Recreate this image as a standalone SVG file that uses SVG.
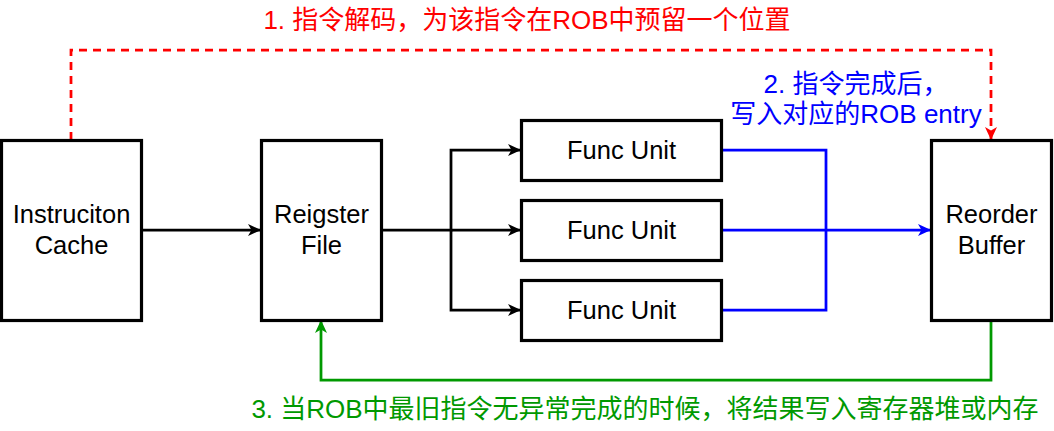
<svg xmlns="http://www.w3.org/2000/svg" width="1054" height="431" viewBox="0 0 1054 431">
<style>
.box{fill:#fff;stroke:#000;stroke-width:3.2}
.t{font-family:"Liberation Sans",Arial,sans-serif;font-size:25.5px;text-anchor:middle;fill:#000}
.lbl{font-family:"Liberation Sans","Noto Sans CJK SC",sans-serif;font-size:26px;text-anchor:middle}
.c{fill:none;stroke-width:2.75}
</style>
<defs>
<marker id="ak" markerUnits="userSpaceOnUse" markerWidth="14" markerHeight="12" refX="12" refY="6" orient="auto"><path d="M0,0 L13,6 L0,12 L3.5,6 Z" fill="#000"/></marker>
<marker id="ab" markerUnits="userSpaceOnUse" markerWidth="14" markerHeight="12" refX="12" refY="6" orient="auto"><path d="M0,0 L13,6 L0,12 L3.5,6 Z" fill="#0000ff"/></marker>
<marker id="ar" markerUnits="userSpaceOnUse" markerWidth="14" markerHeight="12" refX="12" refY="6" orient="auto"><path d="M0,0 L13,6 L0,12 L3.5,6 Z" fill="#ff0000"/></marker>
<marker id="ag" markerUnits="userSpaceOnUse" markerWidth="14" markerHeight="12" refX="12" refY="6" orient="auto"><path d="M0,0 L13,6 L0,12 L3.5,6 Z" fill="#009900"/></marker>
</defs>
<g id="connectors">
<path class="c" stroke="#000" d="M142,230 H260" marker-end="url(#ak)"/>
<path class="c" stroke="#000" d="M382,230 H451 V150 H520" marker-end="url(#ak)"/>
<path class="c" stroke="#000" d="M451,230 H520" marker-end="url(#ak)"/>
<path class="c" stroke="#000" d="M451,230 V310 H520" marker-end="url(#ak)"/>
<path class="c" stroke="#0000ff" d="M722,150 H826 V230"/>
<path class="c" stroke="#0000ff" d="M722,310 H826 V230"/>
<path class="c" stroke="#0000ff" d="M722,230 H930" marker-end="url(#ab)"/>
<path class="c" stroke="#ff0000" stroke-dasharray="8,6" d="M71,140 V50 H991 V139" marker-end="url(#ar)"/>
<path class="c" stroke="#009900" d="M991,321 V380 H321 V321" marker-end="url(#ag)"/>
</g>
<g id="icache"><rect class="box" x="1.5" y="140.5" width="140" height="180"/><text class="t" x="71.5" y="223">Instruciton</text><text class="t" x="71.5" y="254">Cache</text></g>
<g id="regfile"><rect class="box" x="261.5" y="140.5" width="120" height="180"/><text class="t" x="321.5" y="223">Reigster</text><text class="t" x="321.5" y="254">File</text></g>
<g id="fu1"><rect class="box" x="521.5" y="120.5" width="200" height="60"/><text class="t" x="621.5" y="159">Func Unit</text></g>
<g id="fu2"><rect class="box" x="521.5" y="200.5" width="200" height="60"/><text class="t" x="621.5" y="239">Func Unit</text></g>
<g id="fu3"><rect class="box" x="521.5" y="280.5" width="200" height="60"/><text class="t" x="621.5" y="319">Func Unit</text></g>
<g id="rob"><rect class="box" x="931.5" y="140.5" width="120" height="180"/><text class="t" x="991.5" y="223">Reorder</text><text class="t" x="991.5" y="254">Buffer</text></g>
<g id="labels">
<text class="lbl" fill="#ff0000" x="527" y="29">1. 指令解码，为该指令在ROB中预留一个位置</text>
<text class="lbl" fill="#0000ff" x="856" y="93">2. 指令完成后，</text>
<text class="lbl" fill="#0000ff" x="856" y="123">写入对应的ROB entry</text>
<text class="lbl" fill="#009900" x="645" y="418">3. 当ROB中最旧指令无异常完成的时候，将结果写入寄存器堆或内存</text>
</g>
</svg>
